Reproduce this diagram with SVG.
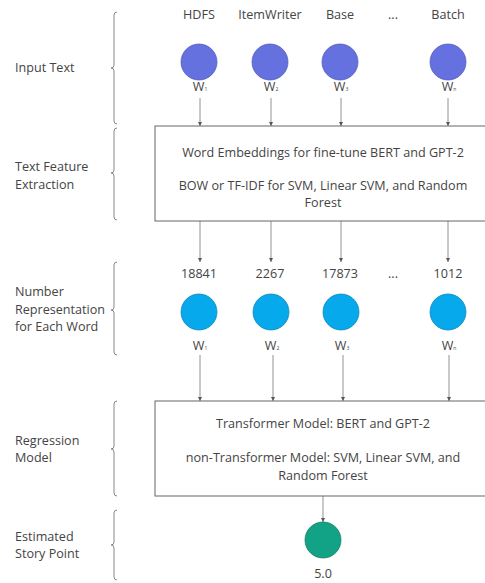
<svg xmlns="http://www.w3.org/2000/svg" width="485" height="583" viewBox="0 0 485 583">
<style>
text{font-family:"Open Sans","Noto Sans","Liberation Sans",sans-serif;fill:#444;font-size:12.6px}
.c{text-anchor:middle}
.sub{font-size:5px}
.brace{fill:none;stroke:#888;stroke-width:1}
.ln{stroke:#777;stroke-width:0.8;fill:none}
.box{fill:#fff;stroke:#666;stroke-width:1}
.in{fill:#6671e0;stroke:#4a55b8;stroke-width:0.7}
.num{fill:#06a9ec;stroke:#0a7fb0;stroke-width:0.7}
.out{fill:#12a386;stroke:#0c7560;stroke-width:0.7}
</style>
<defs>
<marker id="ah" markerWidth="5" markerHeight="5" refX="4" refY="2.5" orient="auto" markerUnits="userSpaceOnUse">
<path d="M0,0.5 L4,2.5 L0,4.5 Z" fill="#555"/>
</marker>
</defs>
<g id="labels">
<text x="15" y="72">Input Text</text>
<text x="15" y="171">Text Feature</text>
<text x="15" y="189">Extraction</text>
<text x="15" y="296">Number</text>
<text x="15" y="314">Representation</text>
<text x="15" y="331">for Each Word</text>
<text x="15" y="445">Regression</text>
<text x="15" y="462">Model</text>
<text x="15" y="541">Estimated</text>
<text x="15" y="558">Story Point</text>
</g>
<g id="braces">
<path class="brace" d="M117,12 Q114,12 114,15 L114,65 Q114,68 111,68 Q114,68 114,71 L114,121 Q114,124 117,124"/>
<path class="brace" d="M117,128 Q114,128 114,131 L114,170 Q114,173 111,173 Q114,173 114,176 L114,217 Q114,220 117,220"/>
<path class="brace" d="M117,262 Q114,262 114,265 L114,307 Q114,310 111,310 Q114,310 114,313 L114,352 Q114,355 117,355"/>
<path class="brace" d="M117,401 Q114,401 114,404 L114,446 Q114,449 111,449 Q114,449 114,452 L114,493 Q114,496 117,496"/>
<path class="brace" d="M117,510 Q114,510 114,513 L114,542 Q114,545 111,545 Q114,545 114,548 L114,577 Q114,580 117,580"/>
</g>
<g id="connectors">
<path class="ln" marker-end="url(#ah)" d="M200,98 V126"/>
<path class="ln" marker-end="url(#ah)" d="M271,98 V126"/>
<path class="ln" marker-end="url(#ah)" d="M341,98 V126"/>
<path class="ln" marker-end="url(#ah)" d="M448,98 V126"/>
<path class="ln" marker-end="url(#ah)" d="M200,221 V262"/>
<path class="ln" marker-end="url(#ah)" d="M271,221 V262"/>
<path class="ln" marker-end="url(#ah)" d="M341,221 V262"/>
<path class="ln" marker-end="url(#ah)" d="M448,221 V262"/>
<path class="ln" marker-end="url(#ah)" d="M200,355 V401"/>
<path class="ln" marker-end="url(#ah)" d="M273,355 V401"/>
<path class="ln" marker-end="url(#ah)" d="M343,355 V401"/>
<path class="ln" marker-end="url(#ah)" d="M449,355 V401"/>
<path class="ln" marker-end="url(#ah)" d="M323,496 V522"/>
</g>
<g id="input-words">
<text class="c" x="199" y="19">HDFS</text>
<text class="c" x="270" y="19">ItemWriter</text>
<text class="c" x="340" y="19">Base</text>
<text class="c" x="393" y="19">...</text>
<text class="c" x="448" y="19">Batch</text>
</g>
<g id="w1"><circle class="in" cx="199" cy="62" r="18"/><text class="c" x="200" y="91">W<tspan class="sub">1</tspan></text></g>
<g id="w2"><circle class="in" cx="270" cy="62" r="18"/><text class="c" x="271" y="91">W<tspan class="sub">2</tspan></text></g>
<g id="w3"><circle class="in" cx="340" cy="62" r="18"/><text class="c" x="341" y="91">W<tspan class="sub">3</tspan></text></g>
<g id="wn"><circle class="in" cx="448" cy="62" r="18"/><text class="c" x="449" y="91">W<tspan class="sub">n</tspan></text></g>
<g id="feature-box">
<rect class="box" x="155" y="126" width="335" height="95"/>
<text class="c" x="323" y="157">Word Embeddings for fine-tune BERT and GPT-2</text>
<text class="c" x="323" y="190">BOW or TF-IDF for SVM, Linear SVM, and Random</text>
<text class="c" x="323" y="207">Forest</text>
</g>
<g id="numbers">
<text class="c" x="199" y="278">18841</text>
<text class="c" x="270" y="278">2267</text>
<text class="c" x="340" y="278">17873</text>
<text class="c" x="393" y="278">...</text>
<text class="c" x="448" y="278">1012</text>
</g>
<g id="n1"><circle class="num" cx="199" cy="312" r="18"/><text class="c" x="200" y="350">W<tspan class="sub">1</tspan></text></g>
<g id="n2"><circle class="num" cx="271" cy="312" r="18"/><text class="c" x="272" y="350">W<tspan class="sub">2</tspan></text></g>
<g id="n3"><circle class="num" cx="341" cy="312" r="18"/><text class="c" x="342" y="350">W<tspan class="sub">3</tspan></text></g>
<g id="nn"><circle class="num" cx="448" cy="312" r="18"/><text class="c" x="449" y="350">W<tspan class="sub">n</tspan></text></g>
<g id="regression-box">
<rect class="box" x="155" y="401" width="335" height="95"/>
<text class="c" x="323" y="428">Transformer Model: BERT and GPT-2</text>
<text class="c" x="323" y="462">non-Transformer Model: SVM, Linear SVM, and</text>
<text class="c" x="323" y="480">Random Forest</text>
</g>
<g id="estimate"><circle class="out" cx="323" cy="540" r="18"/><text class="c" x="323" y="578">5.0</text></g>
</svg>
